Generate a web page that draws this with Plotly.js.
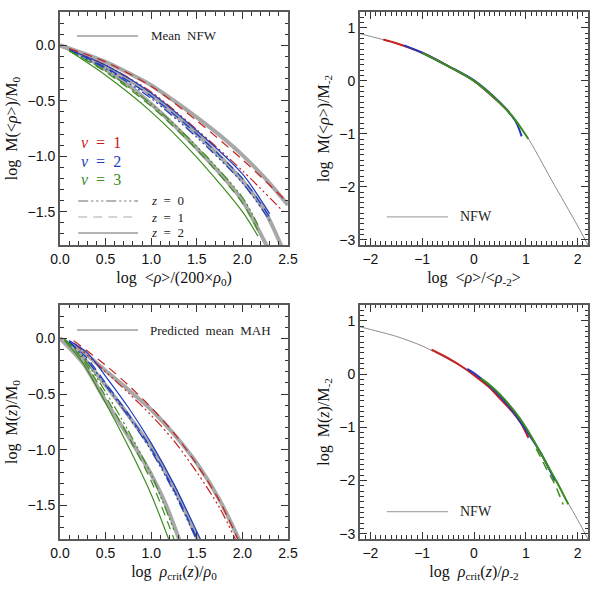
<!DOCTYPE html>
<html>
<head>
<meta charset="utf-8">
<script src="https://cdn.plot.ly/plotly-3.0.1.min.js"></script>
<style>
  html, body { margin: 0; padding: 0; background: #fff; }
  #graph { width: 600px; height: 600px; }
</style>
</head>
<body>
<div id="graph"></div>
<script>
// ---- top-left: mean NFW (gray) + nu / z curves ----
var tlGrayX  = [0, 0.25, 0.5, 0.75, 1.0, 1.25, 1.5, 1.75, 2.0, 2.25, 2.5];
var tlGray1Y = [0, -0.07, -0.15, -0.25, -0.36, -0.50, -0.65, -0.81, -0.99, -1.20, -1.44];
var tlGray2Y = [0, -0.08, -0.19, -0.31, -0.45, -0.62, -0.80, -1.00, -1.22, -1.50, -1.95];
var tlGray3Y = [0, -0.09, -0.22, -0.36, -0.53, -0.72, -0.93, -1.15, -1.40, -1.78, -2.20];

var tlRedX    = [0.1, 0.5, 1.0, 1.5, 2.0, 2.45];
var tlRedZ0Y  = [-0.04, -0.18, -0.42, -0.76, -1.13, -1.50];
var tlRedZ1Y  = [-0.03, -0.15, -0.37, -0.68, -1.03, -1.38];
var tlBlueX   = [0.1, 0.5, 1.0, 1.5, 2.0, 2.3];
var tlBlueZ0Y = [-0.05, -0.21, -0.48, -0.83, -1.24, -1.58];
var tlBlueZ1Y = [-0.04, -0.20, -0.46, -0.80, -1.20, -1.55];
var tlBlueZ2Y = [-0.04, -0.18, -0.43, -0.77, -1.16, -1.52];
var tlGreenX   = [0.1, 0.5, 1.0, 1.5, 2.0, 2.17];
var tlGreenZ0Y = [-0.05, -0.23, -0.53, -0.91, -1.37, -1.62];
var tlGreenZ1Y = [-0.05, -0.24, -0.55, -0.94, -1.42, -1.67];
var tlGreenZ2Y = [-0.05, -0.27, -0.60, -1.01, -1.50, -1.72];

// ---- bottom-left: predicted mean MAH (gray) + nu / z curves ----
var blGray1X = [0, 0.25, 0.5, 0.75, 1.0, 1.25, 1.5, 1.75, 2.0];
var blGray1Y = [0, -0.12, -0.29, -0.46, -0.64, -0.86, -1.12, -1.45, -1.87];
var blGray2X = [0, 0.25, 0.5, 0.75, 1.0, 1.25, 1.55];
var blGray2Y = [0, -0.17, -0.42, -0.69, -0.98, -1.34, -1.88];
var blGray3X = [0, 0.25, 0.5, 0.75, 1.0, 1.15, 1.35];
var blGray3Y = [0, -0.22, -0.56, -0.88, -1.22, -1.47, -1.90];

var blRedX    = [0.15, 0.5, 0.75, 1.0, 1.25, 1.5, 1.75, 1.95];
var blRedZ0Y  = [-0.04, -0.30, -0.49, -0.69, -0.92, -1.20, -1.52, -1.85];
var blRedZ1Y  = [-0.02, -0.24, -0.42, -0.62, -0.85, -1.13, -1.46, -1.80];
var blBlueX   = [0.1, 0.3, 0.5, 0.75, 1.0, 1.25, 1.55];
var blBlueZ0Y = [-0.03, -0.20, -0.42, -0.70, -1.01, -1.38, -1.90];
var blBlueZ1Y = [-0.03, -0.18, -0.40, -0.68, -0.99, -1.36, -1.88];
var blBlueZ2Y = [-0.02, -0.13, -0.34, -0.62, -0.94, -1.31, -1.82];
var blGreenX   = [0.05, 0.25, 0.5, 0.75, 1.0, 1.25];
var blGreenZ0Y = [-0.01, -0.17, -0.48, -0.83, -1.22, -1.72];
var blGreenZ1Y = [-0.01, -0.19, -0.52, -0.88, -1.28, -1.80];
var blGreenZ2Y = [-0.02, -0.22, -0.58, -0.97, -1.40, -1.93];

// ---- right panels: NFW (thin gray) + rescaled curves ----
var nfwX = [-2.2, -2.0, -1.5, -1.0, -0.5, 0.0, 0.5, 1.0, 1.5, 2.0, 2.2];
var nfwY = [0.89, 0.84, 0.71, 0.53, 0.28, 0.0, -0.42, -1.02, -1.88, -2.74, -3.10];

var trRedX   = [-1.75, -1.5, -1.0, -0.5, 0.0, 0.5, 0.68];
var trRedY   = [0.78, 0.71, 0.53, 0.28, 0.0, -0.42, -0.59];
var trBlueX  = [-1.35, -1.0, -0.5, 0.0, 0.5, 0.8, 0.92];
var trBlueY  = [0.67, 0.53, 0.28, 0.01, -0.41, -0.76, -1.05];
var trGreenX = [-1.0, -0.5, 0.0, 0.5, 0.8, 1.05];
var trGreenY = [0.53, 0.28, 0.0, -0.42, -0.74, -1.10];

var brRedX    = [-0.82, -0.5, -0.2, 0.0, 0.3, 0.52, 0.75, 0.91, 1.05];
var brRedY    = [0.46, 0.30, 0.12, -0.02, -0.25, -0.48, -0.72, -0.93, -1.20];
var brBlueX   = [-0.13, 0.0, 0.3, 0.52, 0.8, 1.0, 1.3, 1.56];
var brBlueY   = [0.10, 0.02, -0.22, -0.43, -0.76, -1.05, -1.50, -2.00];
var brGreenX  = [0.13, 0.3, 0.52, 0.8, 1.0, 1.17, 1.4, 1.6, 1.82];
var brGreenY  = [-0.08, -0.20, -0.40, -0.72, -1.00, -1.28, -1.68, -2.03, -2.45];
var brGreen2X = [1.2, 1.4, 1.55, 1.72];
var brGreen2Y = [-1.40, -1.78, -2.05, -2.45];

var RED = '#c81e1e', BLUE = '#1e3cbe', GREEN = '#3c8c1e';
var GRAY = '#a8a8a8', THIN = '#8c8c8c', KEY = '#6a6a6a';
var DASH_Z0 = '10px,3px,2px,3px,2px,3px,2px,3px';
var DASH_Z1 = '9px,6px';
var SERIF = 'Liberation Serif, Times New Roman, serif';
var SANS = 'Liberation Sans, Arial, sans-serif';

function line(x, y, color, width, dash, ax) {
    return {
        x: x, y: y, mode: 'lines', type: 'scatter',
        xaxis: 'x' + ax, yaxis: 'y' + ax,
        line: {color: color, width: width, dash: dash || 'solid', shape: 'spline', smoothing: 0.8},
        hoverinfo: 'skip', showlegend: false
    };
}

var data = [
    // top-left
    line(tlGrayX, tlGray1Y, GRAY, 4, null, ''),
    line(tlGrayX, tlGray2Y, GRAY, 4, null, ''),
    line(tlGrayX, tlGray3Y, GRAY, 4, null, ''),
    line(tlRedX, tlRedZ0Y, RED, 1.2, DASH_Z0, ''),
    line(tlRedX, tlRedZ1Y, RED, 1.2, DASH_Z1, ''),
    line(tlBlueX, tlBlueZ0Y, BLUE, 1.2, DASH_Z0, ''),
    line(tlBlueX, tlBlueZ1Y, BLUE, 1.2, DASH_Z1, ''),
    line(tlBlueX, tlBlueZ2Y, BLUE, 1.2, null, ''),
    line(tlGreenX, tlGreenZ0Y, GREEN, 1.2, DASH_Z0, ''),
    line(tlGreenX, tlGreenZ1Y, GREEN, 1.2, DASH_Z1, ''),
    line(tlGreenX, tlGreenZ2Y, GREEN, 1.2, null, ''),
    // top-right
    line(nfwX, nfwY, THIN, 1, null, '2'),
    line(trRedX, trRedY, RED, 2, null, '2'),
    line(trBlueX, trBlueY, BLUE, 2, null, '2'),
    line(trGreenX, trGreenY, GREEN, 2, null, '2'),
    // bottom-left
    line(blGray1X, blGray1Y, GRAY, 4, null, '3'),
    line(blGray2X, blGray2Y, GRAY, 4, null, '3'),
    line(blGray3X, blGray3Y, GRAY, 4, null, '3'),
    line(blRedX, blRedZ0Y, RED, 1.2, DASH_Z0, '3'),
    line(blRedX, blRedZ1Y, RED, 1.2, DASH_Z1, '3'),
    line(blBlueX, blBlueZ0Y, BLUE, 1.2, DASH_Z0, '3'),
    line(blBlueX, blBlueZ1Y, BLUE, 1.2, DASH_Z1, '3'),
    line(blBlueX, blBlueZ2Y, BLUE, 1.2, null, '3'),
    line(blGreenX, blGreenZ0Y, GREEN, 1.2, DASH_Z0, '3'),
    line(blGreenX, blGreenZ1Y, GREEN, 1.2, DASH_Z1, '3'),
    line(blGreenX, blGreenZ2Y, GREEN, 1.2, null, '3'),
    // bottom-right
    line(nfwX, nfwY, THIN, 1, null, '4'),
    line(brRedX, brRedY, RED, 2, null, '4'),
    line(brBlueX, brBlueY, BLUE, 2, null, '4'),
    line(brGreen2X, brGreen2Y, GREEN, 1.5, DASH_Z1, '4'),
    line(brGreenX, brGreenY, GREEN, 2, null, '4')
];

function axis(domain, range, dtick, fmt, title, anchor) {
    return {
        domain: domain, range: range, anchor: anchor,
        showgrid: false, zeroline: false,
        showline: true, linecolor: '#5a5a5a', linewidth: 2, mirror: 'allticks',
        ticks: 'inside', ticklen: 7, tickwidth: 1, tickcolor: '#333',
        tick0: 0, dtick: dtick, tickformat: fmt,
        minor: {ticks: 'inside', ticklen: 3.5, tickwidth: 1, tickcolor: '#333', dtick: 0.1},
        tickfont: {family: SANS, size: 14, color: '#111'},
        title: {text: title, font: {family: SERIF, size: 16, color: '#111'}, standoff: 6}
    };
}

var xL = [0.1, 0.48], xR = [0.6, 0.98];
var yT = [0.5917, 0.98], yB = [0.1017, 0.4917];

var layout = {
    width: 600, height: 600,
    margin: {l: 0, r: 0, t: 0, b: 0},
    paper_bgcolor: '#fff', plot_bgcolor: '#fff',
    showlegend: false,
    xaxis:  axis(xL, [0, 2.5], 0.5, '.1f', 'log  &lt;<i>ρ</i>&gt;/(200×<i>ρ</i><sub>0</sub>)', 'y'),
    yaxis:  axis(yT, [-1.8, 0.3], 0.5, '.1f', 'log  M(&lt;<i>ρ</i>&gt;)/M<sub>0</sub>', 'x'),
    xaxis2: axis(xR, [-2.2, 2.2], 1, 'd', 'log  &lt;<i>ρ</i>&gt;/&lt;<i>ρ</i><sub>-2</sub>&gt;', 'y2'),
    yaxis2: axis(yT, [-3.1, 1.3], 1, 'd', 'log  M(&lt;<i>ρ</i>&gt;)/M<sub>-2</sub>', 'x2'),
    xaxis3: axis(xL, [0, 2.5], 0.5, '.1f', 'log  <i>ρ</i><sub>crit</sub>(<i>z</i>)/<i>ρ</i><sub>0</sub>', 'y3'),
    yaxis3: axis(yB, [-1.8, 0.3], 0.5, '.1f', 'log  M(<i>z</i>)/M<sub>0</sub>', 'x3'),
    xaxis4: axis(xR, [-2.2, 2.2], 1, 'd', 'log  <i>ρ</i><sub>crit</sub>(<i>z</i>)/<i>ρ</i><sub>-2</sub>', 'y4'),
    yaxis4: axis(yB, [-3.1, 1.3], 1, 'd', 'log  M(<i>z</i>)/M<sub>-2</sub>', 'x4'),
    shapes: [],
    annotations: []
};

// legend keys drawn by hand, like the original figure
function key(ax, x0, x1, y, dash, width, color) {
    layout.shapes.push({
        type: 'line', xref: 'x' + ax + ' domain', yref: 'y' + ax + ' domain',
        x0: x0, x1: x1, y0: y, y1: y,
        line: {color: color || KEY, width: width || 1.1, dash: dash || 'solid'}
    });
}
function label(ax, x, y, text, size, color) {
    layout.annotations.push({
        xref: 'x' + ax + ' domain', yref: 'y' + ax + ' domain',
        x: x, y: y, xanchor: 'left', yanchor: 'middle', showarrow: false,
        text: text, font: {family: SERIF, size: size, color: color || '#222'}
    });
}

key('', 0.075, 0.342, 0.897);
label('', 0.39, 0.897, 'Mean  NFW', 13);
label('', 0.085, 0.440, '<i>ν</i>  =  1', 16, RED);
label('', 0.085, 0.360, '<i>ν</i>  =  2', 16, BLUE);
label('', 0.085, 0.280, '<i>ν</i>  =  3', 16, GREEN);
key('', 0.08, 0.342, 0.189, DASH_Z0);
key('', 0.08, 0.342, 0.120, DASH_Z1, 1.2, '#aaa');
key('', 0.08, 0.342, 0.0515);
label('', 0.39, 0.189, '<i>z</i>  =  0', 13);
label('', 0.39, 0.120, '<i>z</i>  =  1', 13);
label('', 0.39, 0.0515, '<i>z</i>  =  2', 13);

key('2', 0.118, 0.386, 0.121, null, 1.2, '#aaa');
label('2', 0.43, 0.121, 'NFW', 14);

key('3', 0.075, 0.342, 0.893);
label('3', 0.385, 0.893, 'Predicted  mean  MAH', 13);

key('4', 0.118, 0.386, 0.117, null, 1.2, '#aaa');
label('4', 0.43, 0.117, 'NFW', 14);

Plotly.newPlot('graph', data, layout, {staticPlot: true});
</script>
</body>
</html>
